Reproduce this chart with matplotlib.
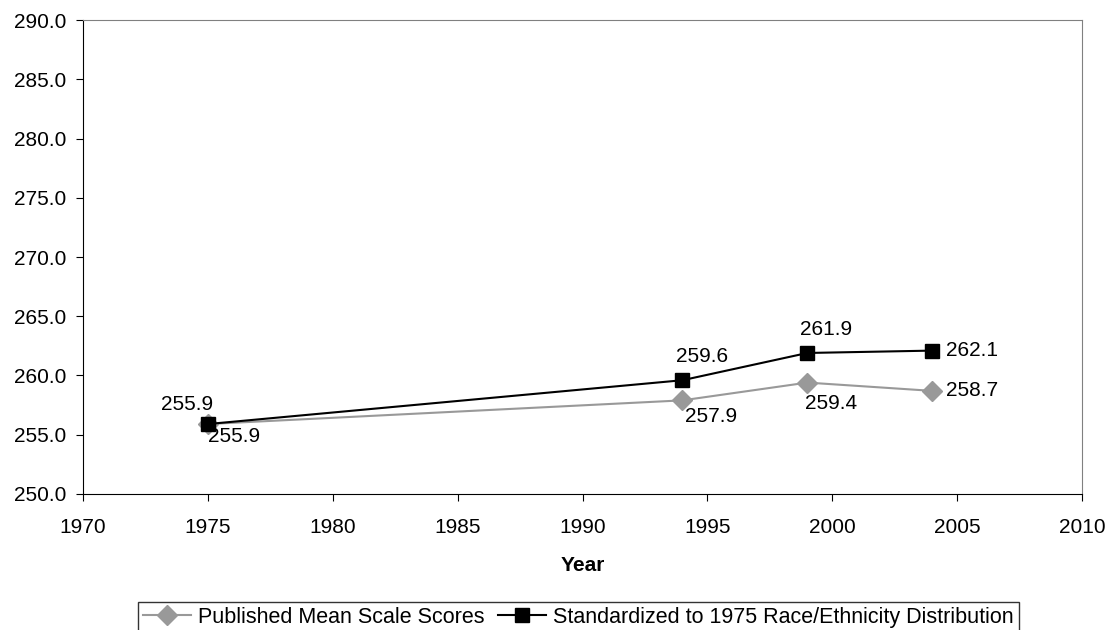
import matplotlib.pyplot as plt

plt.rcParams['font.family'] = ['Liberation Sans', 'DejaVu Sans']

years = [1975, 1994, 1999, 2004]
published = [255.9, 257.9, 259.4, 258.7]
standardized = [255.9, 259.6, 261.9, 262.1]

fs = 15

fig = plt.figure(figsize=(11.11, 6.3), dpi=100)
ax = fig.add_axes([0.0747, 0.216, 0.8993, 0.752])

ax.plot(years, published, color='#999999', linewidth=1.5, marker='D', markersize=10,
        markerfacecolor='#999999', markeredgecolor='#999999', label='Published Mean Scale Scores')
ax.plot(years, standardized, color='black', linewidth=1.5, marker='s', markersize=9.5,
        markerfacecolor='black', label='Standardized to 1975 Race/Ethnicity Distribution')

# data labels - published below, standardized above
pub_offsets = [(0, -2), (2, -5), (-1.5, -8), (10, 0)]
for i, (x, y) in enumerate(zip(years, published)):
    dx, dy = pub_offsets[i]
    if i == len(years) - 1:
        ax.annotate(f'{y:.1f}', (x, y), xytext=(dx, dy), textcoords='offset points',
                    ha='left', va='center', fontsize=fs)
    else:
        ax.annotate(f'{y:.1f}', (x, y), xytext=(dx, dy), textcoords='offset points',
                    ha='left', va='top', fontsize=fs)
for i, (x, y) in enumerate(zip(years, standardized)):
    if i == 0:
        ax.annotate(f'{y:.1f}', (x, y), xytext=(4, 7), textcoords='offset points',
                    ha='right', va='bottom', fontsize=fs)
    elif i == len(years) - 1:
        ax.annotate(f'{y:.1f}', (x, y), xytext=(10, 0), textcoords='offset points',
                    ha='left', va='center', fontsize=fs)
    else:
        ax.annotate(f'{y:.1f}', (x, y), xytext=(-5, 10), textcoords='offset points',
                    ha='left', va='bottom', fontsize=fs)

ax.set_xlim(1970, 2010)
ax.set_ylim(250, 290)
ax.set_xticks(range(1970, 2011, 5))
ax.set_yticks(range(250, 291, 5))
ax.set_yticklabels([f'{v:.1f}' for v in range(250, 291, 5)])
ax.tick_params(axis='both', direction='out', length=5, labelsize=fs, color='black')
ax.tick_params(axis='x', pad=12)
ax.tick_params(axis='y', pad=7)
ax.set_xlabel('Year', fontsize=fs, fontweight='bold', labelpad=14)

ax.spines['top'].set_color('#808080')
ax.spines['right'].set_color('#808080')

leg = fig.legend(loc='upper center', bbox_to_anchor=(0.5205, 0.045), ncol=2, fontsize=15.5,
                 frameon=True, fancybox=False, borderaxespad=0, handlelength=2.2,
                 columnspacing=0.65, handletextpad=0.33, borderpad=0.25)
leg.get_frame().set_edgecolor('black')
leg.get_frame().set_linewidth(1)

fig.savefig('out.png', dpi=100)
